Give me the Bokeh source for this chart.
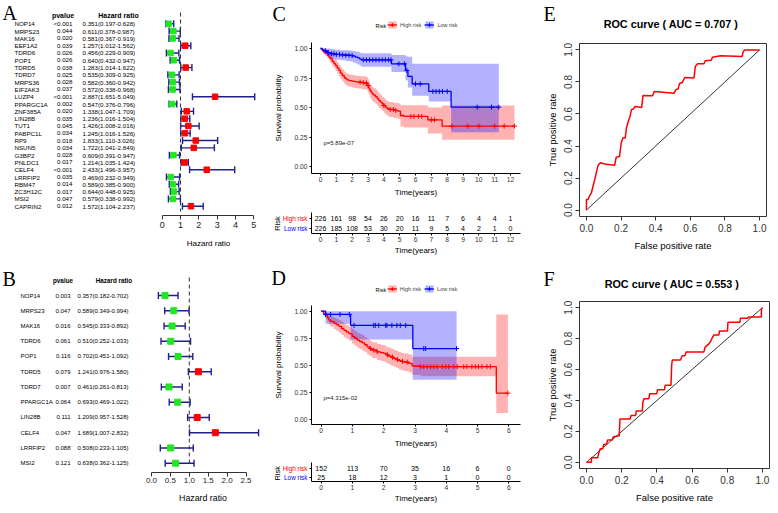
import numpy as np
from bokeh.plotting import figure
from bokeh.layouts import row, column
from bokeh.models import (Range1d, FixedTicker, Legend, LegendItem, ColumnDataSource,
                          Whisker, TeeHead, PrintfTickFormatter)
from bokeh.core.properties import value
from bokeh.embed import file_html
from bokeh.resources import INLINE

# ---------------- A: univariate Cox regression ----------------
a_genes = ["NOP14", "MRPS23", "MAK16", "EEF1A2", "TDRD6", "POP1", "TDRD5", "TDRD7", "MRPS36", "EIF2AK3",
           "LUZP4", "PPARGC1A", "ZNF385A", "LIN28B", "TUT1", "PABPC1L", "RP9", "NSUN5", "G3BP2", "PNLDC1",
           "CELF4", "LRRFIP2", "RBM47", "ZC3H12C", "MSI2", "CAPRIN2"]
a_pvalue = ["<0.001", "0.044", "0.020", "0.039", "0.026", "0.026", "0.038", "0.025", "0.028", "0.037",
            "<0.001", "0.002", "0.020", "0.035", "0.045", "0.034", "0.018", "0.034", "0.028", "0.017",
            "<0.001", "0.035", "0.014", "0.017", "0.047", "0.012"]
a_hr = [0.351, 0.611, 0.581, 1.257, 0.456, 0.640, 1.283, 0.535, 0.582, 0.572, 2.887, 0.547, 1.338,
        1.236, 1.426, 1.245, 1.833, 1.722, 0.609, 1.214, 2.433, 0.469, 0.589, 0.644, 0.579, 1.572]
a_low = [0.197, 0.378, 0.367, 1.012, 0.229, 0.432, 1.014, 0.309, 0.360, 0.338, 1.651, 0.376, 1.047,
         1.016, 1.008, 1.016, 1.110, 1.041, 0.391, 1.035, 1.496, 0.232, 0.385, 0.448, 0.338, 1.104]
a_high = [0.628, 0.987, 0.919, 1.562, 0.909, 0.947, 1.622, 0.925, 0.942, 0.968, 5.049, 0.796, 1.709,
          1.504, 2.016, 1.526, 3.026, 2.849, 0.947, 1.424, 3.957, 0.949, 0.900, 0.925, 0.992, 2.237]
a_ticks = [0, 1, 2, 3, 4, 5]

# ---------------- B: multivariate Cox regression ----------------
b_genes = ["NOP14", "MRPS23", "MAK16", "TDRD6", "POP1", "TDRD5", "TDRD7", "PPARGC1A", "LIN28B",
           "CELF4", "LRRFIP2", "MSI2"]
b_pvalue = ["0.003", "0.047", "0.016", "0.061", "0.116", "0.079", "0.007", "0.064", "0.111",
            "0.047", "0.088", "0.121"]
b_hr = [0.357, 0.589, 0.545, 0.510, 0.702, 1.241, 0.461, 0.693, 1.209, 1.689, 0.508, 0.638]
b_low = [0.182, 0.349, 0.333, 0.252, 0.451, 0.976, 0.261, 0.469, 0.957, 1.007, 0.233, 0.362]
b_high = [0.702, 0.994, 0.892, 1.033, 1.092, 1.580, 0.813, 1.022, 1.528, 2.832, 1.105, 1.125]
b_ticks = [0, 0.5, 1.0, 1.5, 2.0, 2.5]
ref_hr = 1.0

# ---------------- C: Kaplan-Meier, training set ----------------
c_high_t = [0, .1, .2, .32, .45, .55, .63, .75, .85, .95, 1.05, 1.16, 1.26, 1.37, 1.5, 1.6, 1.68, 1.8, 2.0, 2.15,
            2.32, 2.6, 2.84, 2.99, 3.05, 3.12, 3.2, 3.26, 3.35, 3.47, 3.58, 3.68, 3.78, 3.89, 4.0, 4.1, 4.2, 4.32,
            4.63, 4.88, 5.05, 5.26, 6.78, 7.68, 12.25]
c_high_s = [1.0, .985, .972, .96, .94, .925, .912, .89, .872, .856, .835, .814, .792, .771, .752, .742, .734, .728,
            .723, .719, .715, .711, .706, .686, .665, .644, .63, .616, .605, .593, .576, .559, .545, .531, .517,
            .503, .492, .483, .475, .469, .432, .424, .395, .342, .342]
c_high_lo = [1.0, .97, .95, .935, .91, .89, .875, .85, .83, .81, .79, .765, .742, .72, .70, .69, .682, .676, .67,
             .665, .66, .655, .65, .63, .607, .585, .57, .556, .545, .532, .515, .498, .484, .47, .456, .442, .43,
             .42, .41, .404, .34, .33, .28, .226, .226]
c_high_up = [1.0, 1.0, .995, .985, .97, .96, .95, .93, .915, .90, .88, .862, .842, .822, .805, .795, .787, .78,
             .776, .772, .768, .765, .76, .742, .722, .70, .688, .676, .665, .654, .637, .62, .606, .592, .578,
             .564, .553, .546, .54, .534, .52, .52, .50, .517, .517]
c_high_cens = [2.5, 2.7, 2.9, 3.0, 4.0, 4.4, 4.6, 4.75, 5.7, 5.9, 6.2, 6.4, 7.0, 7.2, 8.3, 9.3, 10.0, 11.0,
               11.6, 12.25]
c_low_t = [0, .1, .2, .32, .45, .63, .9, 1.26, 1.6, 1.9, 2.05, 2.2, 2.35, 2.48, 2.57, 4.48, 5.37, 5.52, 5.79,
           6.84, 8.25, 11.26]
c_low_s = [1.0, .99, .982, .975, .965, .955, .95, .946, .943, .94, .935, .927, .92, .912, .904, .87, .814, .763,
           .70, .636, .503, .503]
c_low_lo = [1.0, .97, .955, .945, .93, .915, .905, .9, .895, .89, .882, .873, .865, .855, .845, .80, .73, .67,
            .60, .55, .29, .29]
c_low_up = [1.0, 1.0, 1.0, 1.0, 1.0, .995, .99, .985, .985, .98, .978, .975, .97, .965, .96, .945, .935, .93,
            .87, .87, .87, .87]
c_low_cens = [0.3, 0.5, 0.7, 0.85, 1.0, 1.2, 1.4, 1.6, 1.8, 2.0, 2.7, 2.9, 3.1, 3.3, 3.5, 3.7, 3.9, 4.1, 4.3,
              4.45, 4.95, 5.3, 5.45, 6.0, 6.3, 7.1, 7.3, 7.5, 7.7, 8.0, 9.9, 10.8, 11.26]
c_times = list(range(13))
c_risk_high = [226, 161, 98, 54, 26, 20, 16, 11, 7, 6, 4, 4, 1]
c_risk_low = [226, 185, 108, 53, 30, 20, 11, 9, 5, 4, 2, 1, 0]
c_pval = "p=5.89e-07"

# ---------------- D: Kaplan-Meier, validation set ----------------
d_high_t = [0, .07, .14, .2, .245, .3, .405, .48, .565, .65, .725, .8, .885, .99, 1.07, 1.15, 1.23, 1.31, 1.39,
            1.47, 1.55, 1.63, 1.79, 1.9, 2.0, 2.08, 2.16, 2.24, 2.32, 2.4, 2.48, 2.56, 2.64, 2.8, 2.91, 3.18,
            5.6, 5.97]
d_high_s = [1.0, .98, .96, .94, .92, .905, .89, .875, .86, .84, .823, .808, .793, .768, .75, .732, .72, .707, .69,
            .671, .655, .64, .625, .617, .61, .597, .585, .575, .564, .553, .543, .536, .53, .518, .494, .488,
            .244, .244]
d_high_lo = [1.0, .96, .925, .9, .875, .855, .835, .82, .8, .78, .76, .745, .73, .7, .68, .662, .65, .635, .62,
             .6, .583, .567, .55, .54, .535, .52, .508, .497, .486, .475, .463, .455, .448, .435, .41, .40, .061,
             .061]
d_high_up = [1.0, 1.0, .99, .975, .96, .95, .94, .93, .915, .9, .885, .87, .855, .835, .818, .8, .79, .777, .76,
             .742, .727, .712, .698, .69, .685, .672, .662, .652, .642, .632, .622, .615, .61, .6, .58, .58, .97,
             .97]
d_high_cens = [1.58, 1.68, 1.79, 2.12, 2.28, 2.44, 2.6, 2.75, 3.18, 3.28, 3.39, 3.5, 3.6, 3.71, 3.87, 3.98,
               4.08, 4.24, 4.35, 4.56, 4.66, 4.82, 4.93, 5.03, 5.14, 5.3, 5.41, 5.97]
d_low_t = [0, .14, .94, 2.93, 4.33]
d_low_s = [1.0, .97, .869, .655, .655]
d_low_lo = [1.0, .884, .738, .366, .366]
d_low_up = [1.0, 1.0, 1.0, 1.0, 1.0]
d_low_cens = [0.14, 0.3, 0.6, 0.9, 1.05, 1.68, 1.73, 1.84, 2.06, 2.1, 2.26, 2.42, 2.53, 2.7, 3.28, 3.34, 4.33]
d_times = list(range(7))
d_risk_high = [152, 113, 70, 35, 16, 6, 0]
d_risk_low = [25, 18, 12, 3, 1, 0, 0]
d_pval = "p=4.315e-02"
risk_rows = [1, 0]
risk_groups = ["High risk", "Low risk"]

# ---------------- E / F: ROC curves ----------------
e_fpr = [0, 0, 0.010, 0.017, 0.029, 0.038, 0.048, 0.057, 0.067, 0.080, 0.105, 0.163, 0.172, 0.191, 0.201,
         0.210, 0.224, 0.231, 0.243, 0.252, 0.260, 0.273, 0.281, 0.319, 0.327, 0.382, 0.392, 0.507, 0.516,
         0.530, 0.537, 0.554, 0.568, 0.621, 0.629, 0.641, 0.679, 0.686, 0.721, 0.728, 0.774, 0.899, 0.904,
         0.914, 1.0]
e_tpr = [0, 0.066, 0.066, 0.087, 0.108, 0.149, 0.191, 0.232, 0.278, 0.295, 0.288, 0.280, 0.330, 0.334, 0.419,
         0.450, 0.450, 0.512, 0.558, 0.585, 0.627, 0.633, 0.647, 0.641, 0.716, 0.714, 0.741, 0.730, 0.751,
         0.757, 0.790, 0.797, 0.828, 0.824, 0.896, 0.913, 0.913, 0.932, 0.936, 0.954, 0.963, 0.959, 0.985,
         1.0, 1.0]
e_auc = 0.707
f_fpr = [0, 0.028, 0.028, 0.063, 0.069, 0.074, 0.078, 0.093, 0.097, 0.115, 0.119, 0.145, 0.153, 0.186, 0.190,
         0.248, 0.253, 0.279, 0.283, 0.317, 0.320, 0.326, 0.354, 0.359, 0.399, 0.404, 0.443, 0.447, 0.480,
         0.484, 0.488, 0.534, 0.544, 0.559, 0.566, 0.667, 0.674, 0.695, 0.706, 0.711, 0.723, 0.752, 0.756,
         0.801, 0.804, 0.872, 0.875, 0.916, 0.920, 0.994, 0.994, 1.0]
f_tpr = [0, 0, 0.029, 0.029, 0.056, 0.077, 0.088, 0.088, 0.113, 0.119, 0.144, 0.144, 0.165, 0.171, 0.280,
         0.280, 0.303, 0.303, 0.332, 0.332, 0.386, 0.411, 0.411, 0.443, 0.443, 0.470, 0.470, 0.499, 0.499,
         0.630, 0.662, 0.662, 0.689, 0.689, 0.714, 0.714, 0.745, 0.766, 0.783, 0.797, 0.823, 0.823, 0.850,
         0.850, 0.906, 0.906, 0.931, 0.931, 0.939, 0.939, 0.990, 1.0]
f_auc = 0.553
diag = [0, 1]
roc_ticks = [0, 0.2, 0.4, 0.6, 0.8, 1.0]

# ---------------- styling ----------------
SANS = "Liberation Sans"
SERIF = "Liberation Serif"
RED, BLUE, GREEN, NAVY = "#FF0000", "#0000FF", "#22E622", "#1F1F8F"
TXT = "#333333"
IDENT = ((0, 0), (1, 1))


def make_fig(canvas, frame, xmap, ymap, **kw):
    # canvas / frame in layout pixels; maps pair pixel positions with data values
    cl, ct, w, h = canvas
    fl, fr, ft, fb = frame
    (xp0, xv0), (xp1, xv1) = xmap
    (yp0, yv0), (yp1, yv1) = ymap
    fx = lambda px: xv0 + (px - xp0) * (xv1 - xv0) / (xp1 - xp0)
    fy = lambda py: yv0 + (py - yp0) * (yv1 - yv0) / (yp1 - yp0)
    p = figure(width=w, height=h, x_range=Range1d(fx(fl), fx(fr)), y_range=Range1d(fy(fb), fy(ft)),
               min_border_left=round(fl - cl), min_border_right=round(cl + w - fr),
               min_border_top=round(ft - ct), min_border_bottom=round(ct + h - fb),
               output_backend="svg", toolbar_location=None, **kw)
    if "frame_align" in p.properties():
        p.frame_align = False          # keep each panel's own frame position inside the layout
    p.outline_line_color = None
    p.xgrid.visible = False
    p.ygrid.visible = False
    return p, fx, fy


def blank(canvas, xmap=IDENT, ymap=IDENT, frame_bottom=None):
    cl, ct, w, h = canvas
    fb = ct + h if frame_bottom is None else frame_bottom
    return make_fig(canvas, (cl, cl + w, ct, fb), xmap, ymap, x_axis_location=None, y_axis_location=None)


def ax_style(ax, font, tick_px, label_px, tick_out=3, lab_standoff=2, title_standoff=4,
             color=TXT, line_color="black"):
    ax.major_label_text_font = font
    ax.major_label_text_font_size = f"{tick_px}px"
    ax.major_label_text_color = color
    ax.axis_label_text_font = font
    ax.axis_label_text_font_size = f"{label_px}px"
    ax.axis_label_text_font_style = "normal"
    ax.axis_label_text_color = "black"
    ax.axis_line_color = line_color
    ax.major_tick_line_color = line_color
    ax.minor_tick_line_color = None
    ax.major_tick_in = 0
    ax.major_tick_out = tick_out
    ax.major_label_standoff = lab_standoff
    ax.axis_label_standoff = title_standoff


def txt(p, x, y, t, size, align="left", baseline="middle", color="black", style="normal", font=SANS, **kw):
    p.text(x=x, y=y, text=t, text_font=value(font), text_font_size=f"{size}px", text_align=align,
           text_baseline=baseline, text_color=color, text_font_style=style, **kw)


def forest_table(canvas, frame_bottom, ymap, genes, pv, hr, lo, hi, cols, row_px, head_px, head_y,
                 letter, letter_xy):
    p, fx, fy = blank(canvas, IDENT, ymap, frame_bottom)
    n = len(genes)
    ys = list(range(n))
    hr_txt = [f"{h:.3f}({l:.3f}-{u:.3f})" for h, l, u in zip(hr, lo, hi)]
    txt(p, [cols["gene"]] * n, ys, genes, row_px)
    txt(p, [cols["pv"]] * n, ys, pv, row_px, align="right")
    txt(p, [cols["hr"]] * n, ys, hr_txt, row_px)
    txt(p, [cols["pv_head"], cols["hr_head"]], [fy(head_y)] * 2, ["pvalue", "Hazard ratio"], head_px,
        align="center", style="bold")
    txt(p, [letter_xy[0]], [fy(letter_xy[1])], [letter], 20, baseline="top", font=SERIF)
    return p


def forest_plot(canvas, frame, xmap, ymap, hr, lo, hi, ticks, fmt, dash_y, sq, tick_px, label_px,
                lab_so, title_so):
    p, fx, fy = make_fig(canvas, frame, xmap, ymap, y_axis_location=None)
    ys = list(range(len(hr)))
    colors = [RED if h > ref_hr else GREEN for h in hr]
    p.segment(x0=[ref_hr], y0=[fy(dash_y[0])], x1=[ref_hr], y1=[fy(dash_y[1])],
              line_dash="4 3", line_color="#333333", line_width=1)
    src = ColumnDataSource(dict(y=ys, hr=hr, lo=lo, hi=hi, color=colors))
    p.add_layout(Whisker(source=src, base="y", lower="lo", upper="hi", dimension="width",
                         line_color=NAVY, line_width=1.4,
                         lower_head=TeeHead(size=7, line_color=NAVY, line_width=1.4),
                         upper_head=TeeHead(size=7, line_color=NAVY, line_width=1.4)))
    p.scatter("hr", "y", source=src, marker="square", size=sq, fill_color="color", line_color="color")
    p.xaxis.ticker = FixedTicker(ticks=ticks)
    p.xaxis.bounds = (ticks[0], ticks[-1])
    if fmt:
        p.xaxis.formatter = PrintfTickFormatter(format=fmt)
    p.xaxis.axis_label = "Hazard ratio"
    ax_style(p.xaxis, SANS, tick_px, label_px, tick_out=4, lab_standoff=lab_so, title_standoff=title_so,
             color="#222222", line_color="#333333")
    return p


def km_at(t, s, tc):
    idx = np.searchsorted(np.asarray(t), np.asarray(tc), side="right") - 1
    return list(np.asarray(s)[idx])


def km_draw(p, high, low):
    groups = [(high, RED), (low, BLUE)]
    bands = [p.varea_step(x=g[0], y1=g[2], y2=g[3], step_mode="after", fill_color=c, fill_alpha=0.3)
             for g, c in groups]
    lines = [p.step(x=g[0], y=g[1], mode="after", line_color=c, line_width=1.3) for g, c in groups]
    marks = [p.scatter(x=g[4], y=km_at(g[0], g[1], g[4]), marker="cross", size=5, line_color=c, line_width=1)
             for g, c in groups]
    return [[bands[i], lines[i], marks[i]] for i in range(2)]


def km_header(canvas, xmap, ymap, high, low, letter, letter_px, risk_px, legend_px):
    # header strip above the KM plot: panel letter and the "Risk" legend (curves fall outside its range)
    p, fx, fy = blank(canvas, xmap, ymap)
    rends = km_draw(p, high, low)
    cl, ct, w, h = canvas
    leg = Legend(items=[LegendItem(label=risk_groups[i], renderers=rends[i]) for i in range(2)],
                 orientation="horizontal",
                 location=(legend_px[0] - cl, ct + h - legend_px[1]),
                 glyph_width=10, glyph_height=9, label_height=9, label_width=10, label_text_font=SANS,
                 label_text_font_size="5.5px", label_standoff=3, spacing=3, padding=0, margin=0,
                 border_line_color=None, background_fill_alpha=0)
    p.add_layout(leg)
    txt(p, [fx(risk_px[0])], [fy(risk_px[1])], ["Risk"], 5.5)
    txt(p, [fx(letter_px[0])], [fy(letter_px[1])], [letter], 20, baseline="top", font=SERIF)
    return p


def km_panel(canvas, frame, xmap, ymap, xticks, high, low, pval, p_px):
    p, fx, fy = make_fig(canvas, frame, xmap, ymap)
    km_draw(p, high, low)
    txt(p, [fx(p_px[0])], [fy(p_px[1])], [pval], 6, color="#222222")
    p.xaxis.ticker = FixedTicker(ticks=xticks)
    p.yaxis.ticker = FixedTicker(ticks=[0, 0.25, 0.5, 0.75, 1.0])
    p.yaxis.formatter = PrintfTickFormatter(format="%.2f")
    p.xaxis.axis_label = "Time(years)"
    p.yaxis.axis_label = "Survival probability"
    ax_style(p.xaxis, SANS, 6.7, 8, tick_out=2, lab_standoff=1, title_standoff=3)
    ax_style(p.yaxis, SANS, 6.7, 8, tick_out=2, lab_standoff=2, title_standoff=8)
    return p


def risk_labels(canvas, ymap, right_px, risk_x):
    p, fx, fy = blank(canvas, IDENT, ymap)
    txt(p, [right_px] * 2, risk_rows, risk_groups, 6.4, align="right", color=[RED, BLUE])
    txt(p, [risk_x], [sum(risk_rows) / 2], ["Risk"], 7.5, align="center", angle=np.pi / 2)
    return p


def risk_table(canvas, frame, xmap, ymap, xticks, n_high, n_low):
    p, fx, fy = make_fig(canvas, frame, xmap, ymap)
    for r, counts in zip(risk_rows, (n_high, n_low)):
        txt(p, xticks, [r] * len(xticks), [str(v) for v in counts], 7, align="center")
    p.xaxis.ticker = FixedTicker(ticks=xticks)
    p.yaxis.ticker = FixedTicker(ticks=risk_rows)
    p.yaxis.major_label_overrides = {r: "" for r in risk_rows}
    p.xaxis.axis_label = "Time(years)"
    ax_style(p.xaxis, SANS, 6.7, 8, tick_out=2, lab_standoff=1, title_standoff=1)
    ax_style(p.yaxis, SANS, 6.7, 8, tick_out=2, lab_standoff=0, title_standoff=0)
    return p


def roc_header(canvas, title, title_xy, letter, letter_xy):
    p, fx, fy = blank(canvas)
    txt(p, [title_xy[0]], [title_xy[1]], [title], 10.8, align="center", style="bold")
    txt(p, [letter_xy[0]], [letter_xy[1]], [letter], 20, baseline="top", font=SERIF)
    return p


def roc_panel(canvas, frame, fpr, tpr):
    fl, fr, ft, fb = frame
    p, fx, fy = make_fig(canvas, frame, ((fl, -0.04), (fr, 1.04)), ((fb, -0.04), (ft, 1.04)))
    p.outline_line_color = "#333333"
    p.outline_line_width = 1
    p.line(diag, diag, line_color="black", line_width=0.8)
    p.line(fpr, tpr, line_color=RED, line_width=1.5)
    for ax in (p.xaxis, p.yaxis):
        ax.ticker = FixedTicker(ticks=roc_ticks)
        ax.formatter = PrintfTickFormatter(format="%.1f")
    p.xaxis.axis_label = "False positive rate"
    p.yaxis.axis_label = "True positive rate"
    ax_style(p.xaxis, SANS, 10, 9.5, tick_out=4, lab_standoff=3, title_standoff=5, color="#333333",
             line_color="#333333")
    ax_style(p.yaxis, SANS, 10, 9.5, tick_out=4, lab_standoff=3, title_standoff=4, color="#333333",
             line_color="#333333")
    p.xaxis.axis_line_color = None
    p.yaxis.axis_line_color = None
    p.yaxis.major_label_orientation = "vertical"
    return p


# ---------------- panels (layout pixels, whole layout 770 x 505) ----------------
A_Y = ((23.3, 0), (205.7, 25))
tA = forest_table((0, 0, 156, 263), 215, A_Y, a_genes, a_pvalue, a_hr, a_low, a_high,
                  dict(gene=14, pv=72, hr=82, pv_head=62.5, hr_head=118), 6.2, 7, 15, "A", (2, 1))
fA = forest_plot((156, 0, 104, 263), (156, 260, 0, 215), ((161.7, 0), (253.3, 5)), A_Y,
                 a_hr, a_low, a_high, a_ticks, None, (12, 211), 5.5, 9, 8, 2, 8)
B_Y = ((295, 0), (462.7, 11))
tB = forest_table((0, 263, 145, 242), 472, B_Y, b_genes, b_pvalue, b_hr, b_low, b_high,
                  dict(gene=20, pv=70, hr=77, pv_head=62.5, hr_head=113.5), 6, 6.3, 280, "B", (2, 267))
fB = forest_plot((145, 263, 115, 242), (145, 260, 263, 472), ((151, 0), (245.5, 2.5)), B_Y,
                 b_hr, b_low, b_high, b_ticks, "%.1f", (277, 466), 6, 8, 8.8, 1, 7)

MID_W = 283
C_X, C_Y = ((320, 0), (510, 12)), ((166, 0), (48, 1))
C_high = (c_high_t, c_high_s, c_high_lo, c_high_up, c_high_cens)
C_low = (c_low_t, c_low_s, c_low_lo, c_low_up, c_low_cens)
hC = km_header((260, 0, MID_W, 42), C_X, C_Y, C_high, C_low, "C", (272, 2), (375, 25), (387, 29))
pC = km_panel((260, 42, MID_W, 158), (311, 520, 42, 173), C_X, C_Y, c_times, C_high, C_low, c_pval, (323, 142))
CT_Y = ((228, 0), (218, 1))
lC = risk_labels((260, 200, 48, 63), CT_Y, 307, 277)
tC = risk_table((308, 200, MID_W - 48, 63), (311, 520, 212, 233), C_X, CT_Y, c_times, c_risk_high, c_risk_low)

D_X, D_Y = ((320.7, 0), (508.3, 6)), ((420, 0), (310.7, 1))
D_high = (d_high_t, d_high_s, d_high_lo, d_high_up, d_high_cens)
D_low = (d_low_t, d_low_s, d_low_lo, d_low_up, d_low_cens)
hD = km_header((260, 263, MID_W, 42), D_X, D_Y, D_high, D_low, "D", (271, 266), (375, 289), (386.7, 293))
pD = km_panel((260, 305, MID_W, 145), (311, 520, 305, 425), D_X, D_Y, d_times, D_high, D_low, d_pval,
              (323, 398))
DT_Y = ((477.3, 0), (468.3, 1))
lD = risk_labels((260, 450, 48, 55), DT_Y, 307, 277)
tD = risk_table((308, 450, MID_W - 48, 55), (311, 520, 462, 482), D_X, DT_Y, d_times, d_risk_high, d_risk_low)

RX, RW = 543, 227
hE = roc_header((RX, 0, RW, 36), f"ROC curve ( AUC =  {e_auc:.3f} )", (672, 23), "E", (543, 2))
pE = roc_panel((RX, 36, RW, 227), (578, 766, 43, 216), e_fpr, e_tpr)
hF = roc_header((RX, 263, RW, 30), f"ROC curve ( AUC =  {f_auc:.3f} )", (673, 283), "F", (543, 267))
pF = roc_panel((RX, 293, RW, 212), (577, 769, 301, 469), f_fpr, f_tpr)

layout = row(column(row(tA, fA), row(tB, fB)),
             column(hC, pC, row(lC, tC), hD, pD, row(lD, tD)),
             column(hE, pE, hF, pF))

open("out.html", "w").write(file_html(layout, INLINE))
